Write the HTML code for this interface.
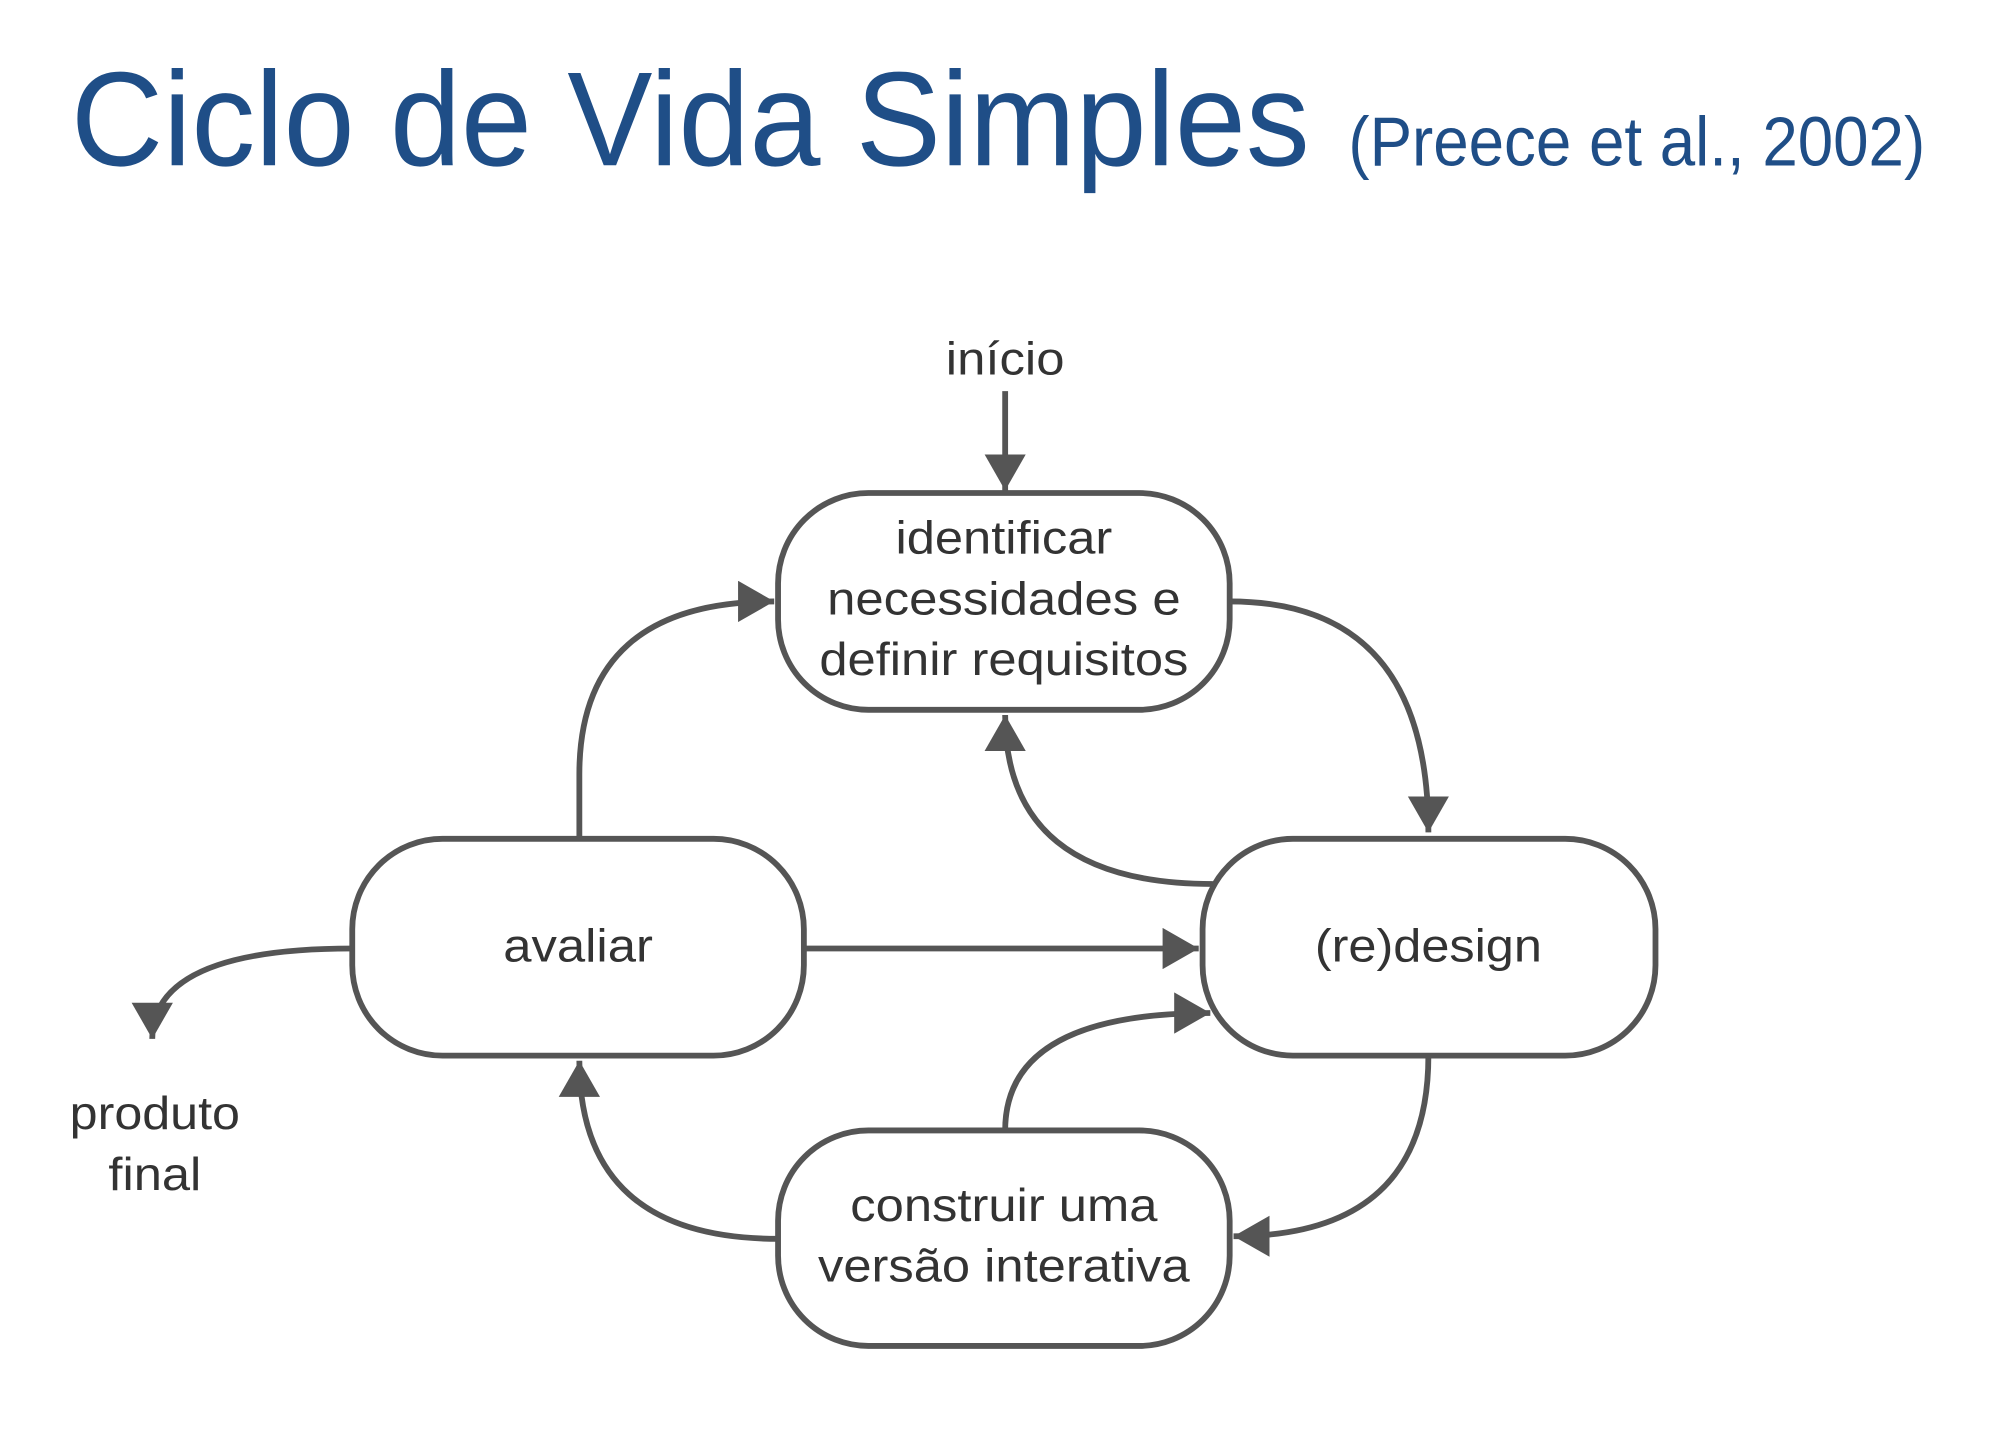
<!DOCTYPE html>
<html><head><meta charset="utf-8"><style>
html,body{margin:0;padding:0;background:#fff;}
svg{display:block;}
</style></head><body>
<svg width="2000" height="1448" viewBox="0 0 1550 1122" xmlns="http://www.w3.org/2000/svg">
<defs>
<marker id="a" markerUnits="userSpaceOnUse" markerWidth="32" markerHeight="32" refX="28" refY="16" orient="auto">
<path d="M0,0 L28,16 L0,32 Z" fill="#555"/>
</marker>
</defs>
<text x="55" y="128" font-family="Liberation Sans, sans-serif" font-size="104" fill="#1f4e87" textLength="960" lengthAdjust="spacingAndGlyphs">Ciclo de Vida Simples</text>
<text x="1045" y="128" font-family="Liberation Sans, sans-serif" font-size="54" fill="#1f4e87" textLength="447" lengthAdjust="spacingAndGlyphs">(Preece et al., 2002)</text>

<g fill="#fff" stroke="#555" stroke-width="4.5">
<rect x="603" y="382" width="350" height="168" rx="70"/>
<rect x="273" y="650" width="350" height="168" rx="70"/>
<rect x="932" y="650" width="351" height="168" rx="70"/>
<rect x="603" y="876" width="350" height="167" rx="70"/>
</g>

<g fill="none" stroke="#555" stroke-width="4.5" marker-end="url(#a)">
<path d="M779,303 L779,380"/>
<path d="M449,650 L449,600 Q449,466 600,466"/>
<path d="M953,466 Q1107,466 1107,645"/>
<path d="M940,685 Q779,685 779,554"/>
<path d="M623,735 L929,735"/>
<path d="M1107,818 Q1107,958 956,958"/>
<path d="M779,876 Q779,785 938,785"/>
<path d="M603,960 Q449,960 449,822"/>
<path d="M273,735 Q118,735 118,805"/>
</g>

<g font-family="Liberation Sans, sans-serif" font-size="36" fill="#333" text-anchor="middle">
<text x="779" y="290" textLength="92" lengthAdjust="spacingAndGlyphs">início</text>
<text x="778" y="429" textLength="168" lengthAdjust="spacingAndGlyphs">identificar</text>
<text x="778" y="476" textLength="274" lengthAdjust="spacingAndGlyphs">necessidades e</text>
<text x="778" y="523" textLength="286" lengthAdjust="spacingAndGlyphs">definir requisitos</text>
<text x="448" y="745" textLength="116" lengthAdjust="spacingAndGlyphs">avaliar</text>
<text x="1107" y="745" textLength="176" lengthAdjust="spacingAndGlyphs">(re)design</text>
<text x="778" y="946" textLength="238" lengthAdjust="spacingAndGlyphs">construir uma</text>
<text x="778" y="993" textLength="288" lengthAdjust="spacingAndGlyphs">versão interativa</text>
<text x="120" y="875" textLength="132" lengthAdjust="spacingAndGlyphs">produto</text>
<text x="120" y="922" textLength="72" lengthAdjust="spacingAndGlyphs">final</text>
</g>
</svg>
</body></html>
